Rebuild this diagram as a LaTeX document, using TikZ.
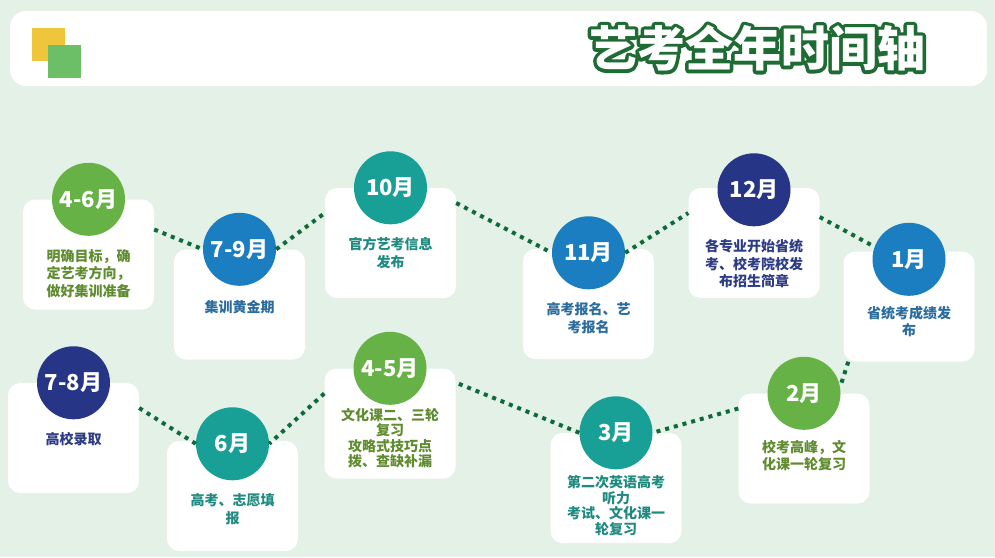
\documentclass[tikz,border=0pt]{standalone}
\usepackage{fontspec}
\setmainfont{Noto Sans CJK SC}
\usetikzlibrary{positioning}
\definecolor{bg}{HTML}{E3F1E6}
\definecolor{leaf}{HTML}{67B246}
\definecolor{sky}{HTML}{1A7EC0}
\definecolor{sea}{HTML}{19A096}
\definecolor{ink}{HTML}{263586}
\definecolor{leaftxt}{HTML}{5F8C2E}
\definecolor{skytxt}{HTML}{2B6C9F}
\definecolor{seatxt}{HTML}{1F8A80}
\definecolor{inktxt}{HTML}{2D3C86}
\definecolor{dots}{HTML}{0F6A3A}
\definecolor{sun}{HTML}{EEC53B}
\definecolor{grass}{HTML}{6CBF67}
\definecolor{rim}{HTML}{1E6B34}
\newcommand{\outlined}[1]{\special{pdf:literal direct 7 w 1 j 2 Tr}#1\special{pdf:literal direct 0 Tr 1 w}}
\begin{document}
\begin{tikzpicture}[x=1pt,y=-1pt,
  card/.style={fill=white, rounded corners=12pt, minimum width=131pt, minimum height=110pt},
  month/.style={circle, minimum size=73pt, inner sep=0pt, text=white, font=\fontsize{22}{22}\selectfont\bfseries},
  note/.style={align=center, inner sep=0pt, font=\fontsize{14}{17.5}\selectfont\bfseries},
  tight/.style={font=\fontsize{14}{15.5}\selectfont\bfseries},
  ttl/.style={inner sep=0pt, font=\fontsize{48}{48}\selectfont\bfseries},
  link/.style={draw=dots, line width=4pt, dash pattern=on 4pt off 5pt}]
  \useasboundingbox (0,0) rectangle (995,557);
  \fill[bg] (0,0) rectangle (995,557);
  % header
  \fill[white, rounded corners=16pt] (10,11) rectangle (987,86);
  \fill[sun] (32,28) rectangle (65,61);
  \fill[grass] (48,45) rectangle (81,78);
  \node[ttl, text=rim] (rimtitle) at (757,48) {\outlined{艺考全年时间轴}};
  \node[ttl, text=white] (title) at (rimtitle) {艺考全年时间轴};
  % cards
  \node[card] (b1) at (88.5,254.5) {};
  \node[card] (b2) at (239.5,304.5) {};
  \node[card] (b3) at (390.5,243) {};
  \node[card] (b4) at (588.5,304) {};
  \node[card] (b5) at (754,243) {};
  \node[card] (b6) at (909,306.5) {};
  \node[card] (b7) at (804,448.5) {};
  \node[card] (b8) at (616,488) {};
  \node[card] (b9) at (390,423.5) {};
  \node[card] (b10) at (232.5,496) {};
  \node[card] (b11) at (73.5,438) {};
  % months
  \node[month, fill=leaf] (c1) at (b1.north) {4-6月};
  \node[month, fill=sky] (c2) at (b2.north) {7-9月};
  \node[month, fill=sea] (c3) at (b3.north) {10月};
  \node[month, fill=sky] (c4) at ([yshift=-4pt]b4.north) {11月};
  \node[month, fill=ink] (c5) at ([yshift=-2pt]b5.north) {12月};
  \node[month, fill=sky] (c6) at ([yshift=-8pt]b6.north) {1月};
  \node[month, fill=leaf] (c7) at (b7.north) {2月};
  \node[month, fill=sea] (c8) at (b8.north) {3月};
  \node[month, fill=leaf] (c9) at (b9.north) {4-5月};
  \node[month, fill=sea] (c10) at ([yshift=-3pt]b10.north) {6月};
  \node[month, fill=ink] (c11) at (b11.north) {7-8月};
  % texts
  \node[note, text=leaftxt, below=13pt of c1] (n1) {明确目标，确\\定艺考方向，\\做好集训准备};
  \node[note, text=skytxt, below=14pt of c2] (n2) {集训黄金期};
  \node[note, text=seatxt, below=13pt of c3] (n3) {官方艺考信息\\发布};
  \node[note, text=skytxt, below=13pt of c4] (n4) {高考报名、艺\\考报名};
  \node[note, text=inktxt, below=13pt of c5] (n5) {各专业开始省统\\考、校考院校发\\布招生简章};
  \node[note, text=skytxt, below=10pt of c6] (n6) {省统考成绩发\\布};
  \node[note, text=leaftxt, below=10pt of c7] (n7) {校考高峰，文\\化课一轮复习};
  \node[note, tight, text=seatxt, below=6pt of c8] (n8) {第二次英语高考\\听力\\考试、文化课一\\轮复习};
  \node[note, tight, text=leaftxt, below=3pt of c9] (n9) {文化课二、三轮\\复习\\攻略式技巧点\\拨、查缺补漏};
  \node[note, text=seatxt, below=13pt of c10] (n10) {高考、志愿填\\报};
  \node[note, text=inktxt, below=13pt of c11] (n11) {高校录取};
  % dotted path
  \draw[link] ([yshift=25pt]b1.east) -- (c2.west);
  \draw[link] (c2.east) -- ([yshift=30pt]b3.east -| b3.west);
  \draw[link] ([yshift=40pt]b3.east) -- (c4.west);
  \draw[link] (c4.east) -- ([yshift=30pt]b5.east -| b5.west);
  \draw[link] ([yshift=26pt]b5.east) -- (c6.160);
  \draw[link] ([xshift=5pt]b6.south west) -- (c7.10);
  \draw[link] ([yshift=40pt]b7.east -| b7.west) -- (c8.east);
  \draw[link] (c8.west) -- ([yshift=41pt]b9.east);
  \draw[link] ([yshift=30pt]b9.east -| b9.west) -- (c10.east);
  \draw[link] (c10.west) -- ([yshift=30pt]b11.east);
\end{tikzpicture}
\end{document}
